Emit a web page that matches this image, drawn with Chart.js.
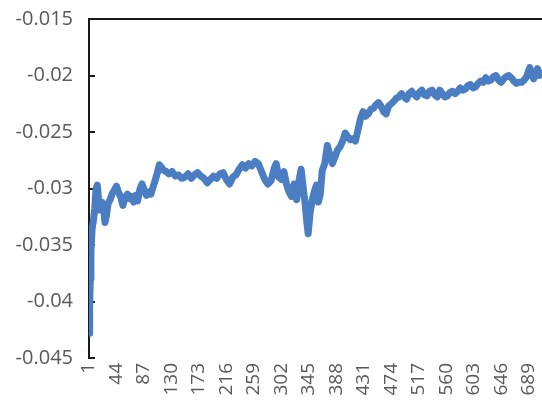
<!DOCTYPE html>
<html>
<head>
<meta charset="utf-8">
<script src="https://cdn.jsdelivr.net/npm/chart.js@4.4.1/dist/chart.umd.min.js"></script>
<style>
  html, body { margin: 0; padding: 0; background: #fff; }
  #wrap { width: 542px; height: 412px; }
</style>
</head>
<body>
<div id="wrap"><canvas id="Chart-0"></canvas></div>
<script>
// sample positions (category number) and values
var x_idx = [1,2,3,4,5,6,8,10,12,14,16,18,21,24,26,28,31,34,37,41,44,47,51,54,57,61,64,67,71,74,77,81,84,88,91,95,98,101,104,108,111,114,118,122,126,131,136,141,146,151,156,161,166,171,176,181,186,191,196,201,206,211,216,221,226,231,236,241,246,251,256,261,266,271,276,281,286,291,294,298,302,306,310,314,318,322,326,330,333,336,339,342,344,347,350,354,357,360,363,366,370,374,378,382,386,390,394,398,402,406,410,414,418,422,426,430,434,438,442,446,450,454,458,462,466,470,474,478,482,486,490,494,498,502,506,510,514,518,522,526,530,534,538,542,546,550,554,558,562,566,570,574,578,582,586,590,594,598,602,606,610,614,618,622,626,630,634,638,642,646,650,654,658,662,666,670,674,678,682,686,689,691,694,697,700,703,706,709]
var series_vals = [-0.0428,-0.0405,-0.038,-0.0355,-0.0345,-0.0335,-0.0328,-0.0318,-0.0300,-0.0297,-0.0310,-0.0319,-0.0312,-0.0318,-0.0330,-0.0325,-0.0313,-0.0310,-0.0305,-0.0301,-0.0298,-0.0303,-0.0308,-0.0315,-0.0309,-0.0305,-0.0309,-0.0307,-0.0312,-0.0306,-0.0311,-0.0300,-0.0296,-0.0302,-0.0306,-0.0303,-0.0305,-0.0299,-0.0294,-0.0286,-0.0279,-0.0281,-0.0284,-0.0285,-0.0287,-0.0285,-0.0289,-0.0288,-0.0291,-0.0290,-0.0287,-0.0291,-0.0288,-0.0286,-0.0289,-0.0291,-0.0295,-0.0292,-0.0289,-0.0291,-0.0287,-0.0286,-0.0292,-0.0296,-0.0290,-0.0288,-0.0283,-0.0279,-0.0282,-0.0278,-0.0280,-0.0276,-0.0278,-0.0285,-0.0292,-0.0296,-0.0293,-0.0282,-0.0278,-0.0290,-0.0292,-0.0285,-0.0296,-0.0303,-0.0307,-0.0296,-0.0310,-0.0292,-0.0283,-0.0298,-0.0312,-0.0330,-0.0340,-0.0322,-0.0311,-0.0302,-0.0297,-0.0312,-0.0305,-0.0284,-0.0278,-0.0262,-0.0270,-0.0278,-0.0272,-0.0266,-0.0263,-0.0258,-0.0251,-0.0254,-0.0257,-0.0256,-0.0258,-0.0248,-0.0238,-0.0232,-0.0236,-0.0234,-0.0230,-0.0229,-0.0226,-0.0224,-0.0227,-0.0232,-0.0234,-0.0227,-0.0225,-0.0223,-0.0220,-0.0219,-0.0216,-0.0219,-0.0221,-0.0216,-0.0214,-0.0217,-0.0219,-0.0215,-0.0213,-0.0217,-0.0218,-0.0214,-0.0213,-0.0217,-0.0219,-0.0213,-0.0216,-0.0219,-0.0218,-0.0215,-0.0214,-0.0216,-0.0214,-0.0211,-0.0213,-0.0212,-0.0209,-0.0208,-0.0211,-0.0210,-0.0207,-0.0205,-0.0206,-0.0202,-0.0205,-0.0204,-0.0201,-0.0200,-0.0204,-0.0206,-0.0203,-0.0201,-0.0200,-0.0202,-0.0205,-0.0207,-0.0206,-0.0206,-0.0204,-0.0201,-0.0196,-0.0193,-0.0199,-0.0203,-0.0199,-0.0194,-0.0200,-0.0198]

var x_tick_vals = [1,44,87,130,173,216,259,302,345,388,431,474,517,560,603,646,689]
var y_tick_vals = [-0.045,-0.04,-0.035,-0.03,-0.025,-0.02,-0.015]
var y_tick_labels = ['-0.045','-0.04','-0.035','-0.03','-0.025','-0.02','-0.015']

let points = []
for (let i = 0; i < x_idx.length; i++) {
    points.push({x: x_idx[i], y: series_vals[i]})
}

// axis line at top (Excel puts the horizontal axis there) + inward ticks on the left
const axis_marks = {
    id: 'axis_marks',
    beforeDatasetsDraw(chart) {
        const {ctx, chartArea, scales} = chart
        ctx.save()
        ctx.strokeStyle = '#1a1a1a'
        ctx.lineWidth = 2
        ctx.beginPath()
        ctx.moveTo(chartArea.left, chartArea.top)
        ctx.lineTo(chartArea.right, chartArea.top)
        scales.y.ticks.forEach(t => {
            let py = Math.round(scales.y.getPixelForValue(t.value))
            ctx.moveTo(chartArea.left, py)
            ctx.lineTo(chartArea.left + 6, py)
        })
        ctx.stroke()
        ctx.restore()
    }
}

var ctx = document.getElementById('Chart-0').getContext('2d');
var chart = new Chart(ctx, {
    type: 'line',
    data: {
        datasets: [{
            data: points,
            borderColor: '#4a7dc1',
            borderWidth: 7,
            pointRadius: 0,
            tension: 0,
            borderJoinStyle: 'round',
            borderCapStyle: 'round',
            fill: false
        }]
    },
    options: {
        responsive: true,
        maintainAspectRatio: false,
        animation: false,
        layout: { padding: { top: 19, right: 0, left: 0, bottom: 0 } },
        plugins: {
            legend: { display: false },
            tooltip: { enabled: false }
        },
        scales: {
            x: {
                type: 'linear',
                min: 1,
                max: 710,
                afterBuildTicks: (scale) => { scale.ticks = x_tick_vals.map(v => ({value: v})) },
                afterFit: (scale) => {
                    scale.height = 54
                    scale.paddingLeft = 0
                    scale.paddingRight = 0
                },
                grid: { display: false, drawTicks: false },
                border: { display: false },
                ticks: {
                    autoSkip: false,
                    minRotation: 90,
                    maxRotation: 90,
                    padding: 5,
                    color: '#595959',
                    font: { family: 'Open Sans', size: 19 },
                    callback: (v) => String(v)
                }
            },
            y: {
                min: -0.045,
                max: -0.015,
                afterBuildTicks: (scale) => { scale.ticks = y_tick_vals.map(v => ({value: v})) },
                afterFit: (scale) => {
                    scale.width = 89
                    scale.paddingTop = 0
                    scale.paddingBottom = 0
                },
                grid: { display: false, drawTicks: false },
                border: { display: true, color: '#1a1a1a', width: 2 },
                ticks: {
                    padding: 16,
                    color: '#595959',
                    font: { family: 'Open Sans', size: 20 },
                    callback: (v, i) => y_tick_labels[i]
                }
            }
        }
    },
    plugins: [axis_marks]
})
</script>
</body>
</html>
